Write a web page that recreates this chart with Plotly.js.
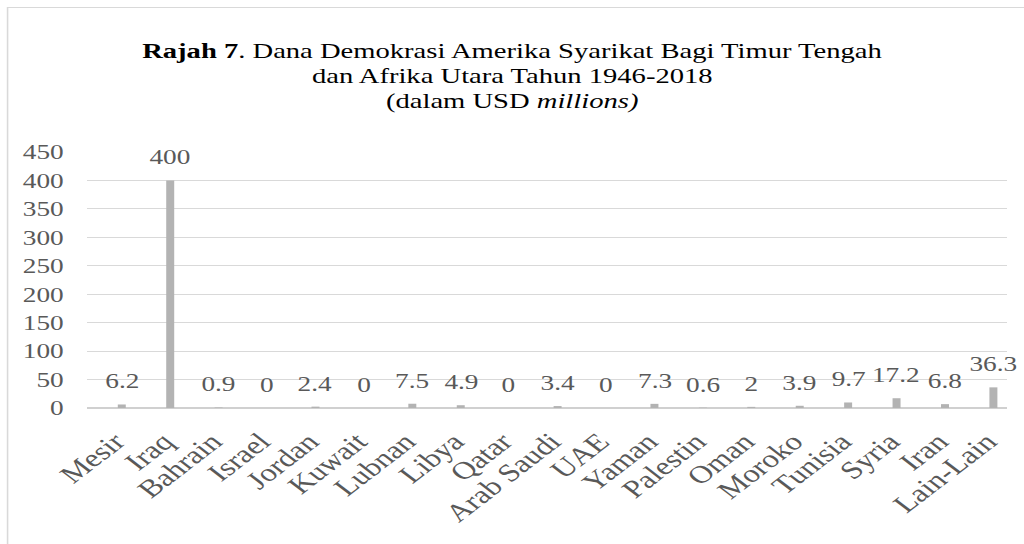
<!DOCTYPE html>
<html>
<head>
<meta charset="utf-8">
<script src="https://cdn.plot.ly/plotly-3.0.1.min.js"></script>
<style>
html,body{margin:0;padding:0;background:#fff;overflow:hidden;}
#chart{height:544px;transform-origin:0 0;}
</style>
</head>
<body>
<div id="chart"></div>
<script>
const categories = ["Mesir","Iraq","Bahrain","Israel","Jordan","Kuwait","Lubnan","Libya","Qatar","Arab Saudi","UAE","Yaman","Palestin","Oman","Moroko","Tunisia","Syria","Iran","Lain-Lain"];
const values = [6.2,400,0.9,0,2.4,0,7.5,4.9,0,3.4,0,7.3,0.6,2,3.9,9.7,17.2,6.8,36.3];
const yTicks = [0,50,100,150,200,250,300,350,400,450];
const titleLines = ["<b>Rajah 7</b>. Dana Demokrasi Amerika Syarikat Bagi Timur Tengah","dan Afrika Utara Tahun 1946-2018","(dalam USD <i>millions)</i>"];

const FONT = "Liberation Serif";
const GREY = "#595959";

// The reference chart is stretched horizontally; draw narrower and stretch the page.
const FINAL_W = 1024, H = 544, W = 788;
const S = FINAL_W / W;
const el = document.getElementById("chart");
el.style.width = W + "px";
el.style.transform = "scaleX(" + S + ")";

const M = {l: 87 / S, r: W - 1007 / S, t: 152, b: 136};
const pw = W - M.l - M.r, ph = H - M.t - M.b;
const px2x = p => (p / S - M.l) / pw;
const py2y = p => (H - M.b - p) / ph;

const trace = {
  type: "bar",
  x: categories,
  y: values,
  marker: {color: "#b3b3b3", line: {width: 0}},
  hoverinfo: "x+y"
};

const annotations = categories.map((c, i) => ({
  x: c, y: values[i], xref: "x", yref: "y",
  text: String(values[i]),
  showarrow: false, yanchor: "bottom", yshift: 9,
  font: {family: FONT, size: 21, color: GREY}
}));

// title lines 2 and 3, placed with the reference's tight line spacing
[[titleLines[1], 75], [titleLines[2], 100]].forEach(([t, py]) => {
  annotations.push({
    xref: "paper", yref: "paper", x: px2x(FINAL_W / 2), y: py2y(py),
    xanchor: "center", yanchor: "middle", showarrow: false,
    text: t, font: {family: FONT, size: 22, color: "#000"}
  });
});

const layout = {
  width: W, height: H,
  margin: M,
  font: {family: FONT, color: GREY},
  paper_bgcolor: "#fff", plot_bgcolor: "#fff",
  showlegend: false,
  bargap: 0.835,
  title: {
    text: titleLines[0],
    font: {family: FONT, size: 22, color: "#000"},
    x: 0.5, xref: "container", xanchor: "center",
    y: 1 - 50 / H, yref: "container", yanchor: "middle"
  },
  xaxis: {
    type: "category",
    range: [-0.717, 18.283],
    tickangle: -45,
    tickfont: {family: FONT, size: 25, color: GREY},
    showgrid: false, ticks: "", showline: false, zeroline: false,
    ticklabelstandoff: 13, ticklabelshift: -5,
    fixedrange: true
  },
  yaxis: {
    range: [0, 450],
    tickvals: yTicks,
    tickfont: {family: FONT, size: 21, color: GREY},
    showgrid: true, gridcolor: "#d9d9d9", gridwidth: 1,
    zeroline: true, zerolinecolor: "#d0d0d0", zerolinewidth: 1.5,
    showline: false, ticks: "", ticklabelstandoff: 17,
    fixedrange: true
  },
  annotations: annotations,
  shapes: [{
    type: "rect", xref: "paper", yref: "paper", layer: "below",
    x0: px2x(7.5), x1: px2x(FINAL_W + 20), y0: py2y(H + 20), y1: py2y(7.5),
    line: {color: "#d9d9d9", width: 1.2}, fillcolor: "rgba(0,0,0,0)"
  }]
};

Plotly.newPlot("chart", [trace], layout, {displayModeBar: false, staticPlot: true});
</script>
</body>
</html>
